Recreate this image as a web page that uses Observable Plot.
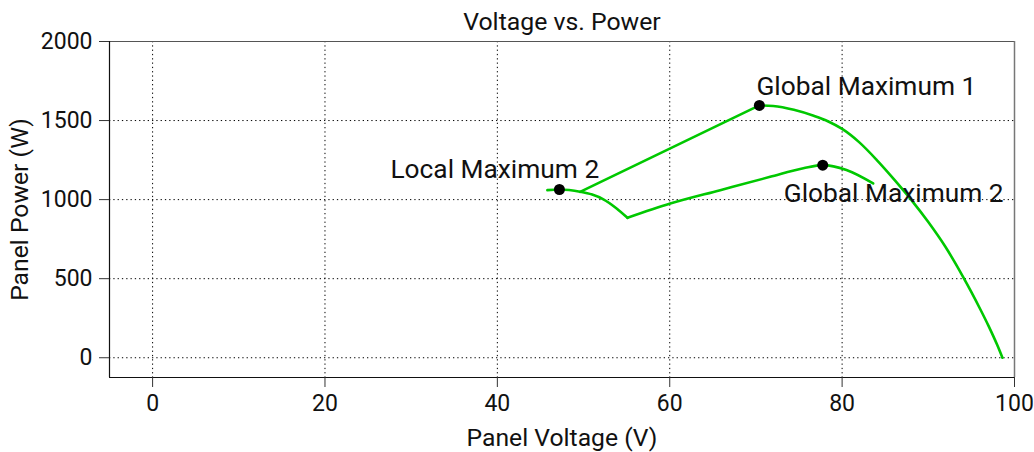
<!DOCTYPE html>
<html><head><meta charset="utf-8">
<script src="https://cdn.jsdelivr.net/npm/d3@7"></script>
<script src="https://cdn.jsdelivr.net/npm/@observablehq/plot@0.6"></script>
<style>body{margin:0;background:#fff}</style>
</head><body><div id="chart"></div>
<script>
const title = "Voltage vs. Power";
const xLabel = "Panel Voltage (V)";
const yLabel = "Panel Power (W)";
const xTicks = [0, 20, 40, 60, 80, 100];
const yTicks = [0, 500, 1000, 1500, 2000];

// lower branch (condition 2), two smooth segments meeting at the sharp corner near 55 V
const lowerSeg = [0, 0, 0, 0, 0, 0, 0, 1, 1, 1, 1, 1, 1, 1, 1];
const lowerV = [45.8, 47.2, 49.6, 51.0, 52.3, 53.8, 55.1, 55.1, 60.06, 65.86, 71.65, 75.5, 77.75, 80.5, 83.6];
const lowerP = [1060, 1064, 1050, 1032, 1002, 946, 885, 885, 975, 1060, 1144, 1198, 1218, 1187, 1102];
// upper branch (condition 1): straight rise, then the falling curve
const upperSeg = [2, 2, 3, 3, 3, 3, 3, 3, 3, 3, 3, 3, 3, 3, 3, 3, 3, 3, 3, 3, 3];
const upperV = [49.6, 70.4, 70.4, 72.0, 74.4, 76.7, 78.4, 80.0, 82.0, 84.0, 86.0, 88.0, 90.0, 92.0, 94.0, 95.0, 96.0, 97.0, 98.0, 98.6];
const upperP = [1049, 1596, 1596, 1592, 1568, 1530, 1494, 1447, 1362, 1252, 1130, 1000, 858, 700, 515, 415, 310, 200, 80, 0];

const markerNames = ["Local Maximum 2", "Global Maximum 1", "Global Maximum 2"];
const markerV = [47.2, 70.4, 77.75];
const markerP = [1064, 1596, 1218];

const lower = lowerV.map((v, i) => ({v, p: lowerP[i], seg: lowerSeg[i]}));
const upper = upperV.map((v, i) => ({v, p: upperP[i], seg: upperSeg[i]}));
const markers = markerNames.map((name, i) => ({name, v: markerV[i], p: markerP[i]}));
const labelOffsets = {
  "Local Maximum 2": {dx: -169, dy: -20},
  "Global Maximum 1": {dx: -3, dy: -19},
  "Global Maximum 2": {dx: -39, dy: 28}
};

const green = "#00c800";
const chart = Plot.plot({
  width: 1034,
  height: 452,
  marginLeft: 109,
  marginRight: 20,
  marginTop: 41,
  marginBottom: 75,
  style: {fontFamily: "Roboto", color: "#111", background: "#fff"},
  x: {domain: [-5, 100]},
  y: {domain: [-125, 2000]},
  marks: [
    Plot.gridX(xTicks, {stroke: "#000", strokeOpacity: 1, strokeDasharray: "1.3,3"}),
    Plot.gridY(yTicks, {stroke: "#000", strokeOpacity: 1, strokeDasharray: "1.3,3"}),
    Plot.ruleY([2000], {stroke: "#555", strokeWidth: 1.2}),
    Plot.ruleX([100], {stroke: "#777", strokeWidth: 1.5}),
    Plot.ruleX([-5], {stroke: "#111", strokeWidth: 1.2}),
    Plot.ruleY([-125], {stroke: "#111", strokeWidth: 1.2}),
    Plot.axisX(xTicks, {tickSize: 10, tickPadding: 7, fontSize: 23, label: null, stroke: "#333", tickFormat: d3.format("d")}),
    Plot.axisY(yTicks, {tickSize: 10, tickPadding: 7, fontSize: 23, label: null, stroke: "#333", tickFormat: d3.format("d")}),
    Plot.line(lower, {x: "v", y: "p", z: "seg", stroke: green, strokeWidth: 2.6, curve: "monotone-x"}),
    Plot.line(upper, {x: "v", y: "p", z: "seg", stroke: green, strokeWidth: 2.6, curve: "monotone-x"}),
    Plot.dot(markers, {x: "v", y: "p", r: 5.5, fill: "#000"}),
    ...markers.map(m => Plot.text([m], {x: "v", y: "p", text: "name", textAnchor: "start",
      dx: labelOffsets[m.name].dx, dy: labelOffsets[m.name].dy, fontSize: 26.3, fill: "#111"})),
    Plot.text([title], {frameAnchor: "top", lineAnchor: "middle", dy: -19, text: d => d, fontSize: 24.8, fill: "#111"}),
    Plot.text([xLabel], {frameAnchor: "bottom", lineAnchor: "middle", dy: 61, text: d => d, fontSize: 24.7, fill: "#111"}),
    Plot.text([yLabel], {frameAnchor: "left", textAnchor: "middle", lineAnchor: "middle", dx: -89, rotate: -90, text: d => d, fontSize: 24.7, fill: "#111"})
  ]
});
document.getElementById("chart").append(chart);
</script>
</body></html>
